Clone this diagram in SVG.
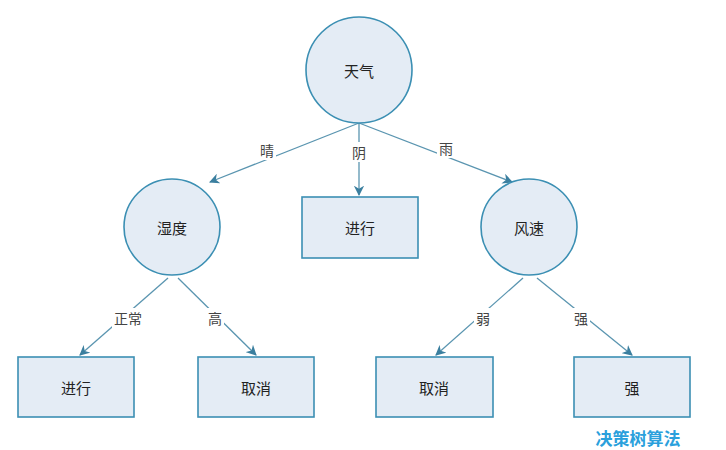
<svg xmlns="http://www.w3.org/2000/svg" width="726" height="450" viewBox="0 0 726 450">
<style>
.n{fill:#e4ecf5;stroke:#3b8fb3;stroke-width:1.6}
.t{font-family:"Noto Sans CJK SC",sans-serif;font-size:15px;fill:#222;text-anchor:middle;dominant-baseline:central}
.l{font-family:"Noto Sans CJK SC",sans-serif;font-size:14px;fill:#444;text-anchor:middle;dominant-baseline:central}
.e{stroke:#5a95b0;stroke-width:1.3;fill:none;marker-end:url(#a)}
</style>
<defs><marker id="a" viewBox="0 0 10 10" refX="9" refY="5" markerWidth="8" markerHeight="8" orient="auto"><path d="M0,0L10,5L0,10L3,5z" fill="#3b7f9f"/></marker></defs>
<rect width="726" height="450" fill="#fff"/>
<g id="edges">
<path class="e" d="M359,123L210,182"/>
<path class="e" d="M359,123L359,195"/>
<path class="e" d="M359,123L512,182"/>
<path class="e" d="M168,278L80,355"/>
<path class="e" d="M178,278L256,355"/>
<path class="e" d="M523,278L436,355"/>
<path class="e" d="M537,278L632,355"/>
</g>
<g id="labels">
<rect x="258" y="140" width="18" height="20" fill="#fff"/><text class="l" x="267" y="150">晴</text>
<rect x="350" y="142" width="18" height="20" fill="#fff"/><text class="l" x="359" y="152">阴</text>
<rect x="437" y="138" width="18" height="20" fill="#fff"/><text class="l" x="446" y="148">雨</text>
<rect x="112" y="308" width="32" height="20" fill="#fff"/><text class="l" x="128" y="318">正常</text>
<rect x="206" y="308" width="18" height="20" fill="#fff"/><text class="l" x="215" y="318">高</text>
<rect x="474" y="308" width="18" height="20" fill="#fff"/><text class="l" x="483" y="318">弱</text>
<rect x="572" y="308" width="18" height="20" fill="#fff"/><text class="l" x="581" y="318">强</text>
</g>
<g id="n1"><circle class="n" cx="359" cy="70" r="53"/><text class="t" x="359" y="70">天气</text></g>
<g id="n2"><circle class="n" cx="172" cy="227" r="48"/><text class="t" x="172" y="227">湿度</text></g>
<g id="n3"><rect class="n" x="302" y="197" width="116" height="61"/><text class="t" x="360" y="227">进行</text></g>
<g id="n4"><circle class="n" cx="529" cy="227" r="48"/><text class="t" x="529" y="227">风速</text></g>
<g id="n5"><rect class="n" x="18" y="357" width="116" height="60"/><text class="t" x="76" y="387">进行</text></g>
<g id="n6"><rect class="n" x="198" y="357" width="116" height="60"/><text class="t" x="256" y="387">取消</text></g>
<g id="n7"><rect class="n" x="376" y="357" width="117" height="60"/><text class="t" x="434" y="387">取消</text></g>
<g id="n8"><rect class="n" x="574" y="357" width="116" height="60"/><text class="t" x="632" y="387">强</text></g>
<text x="638" y="437" font-family="Noto Sans CJK SC,sans-serif" font-size="17" font-weight="bold" fill="#2aa0dc" text-anchor="middle" dominant-baseline="central">决策树算法</text>
</svg>
